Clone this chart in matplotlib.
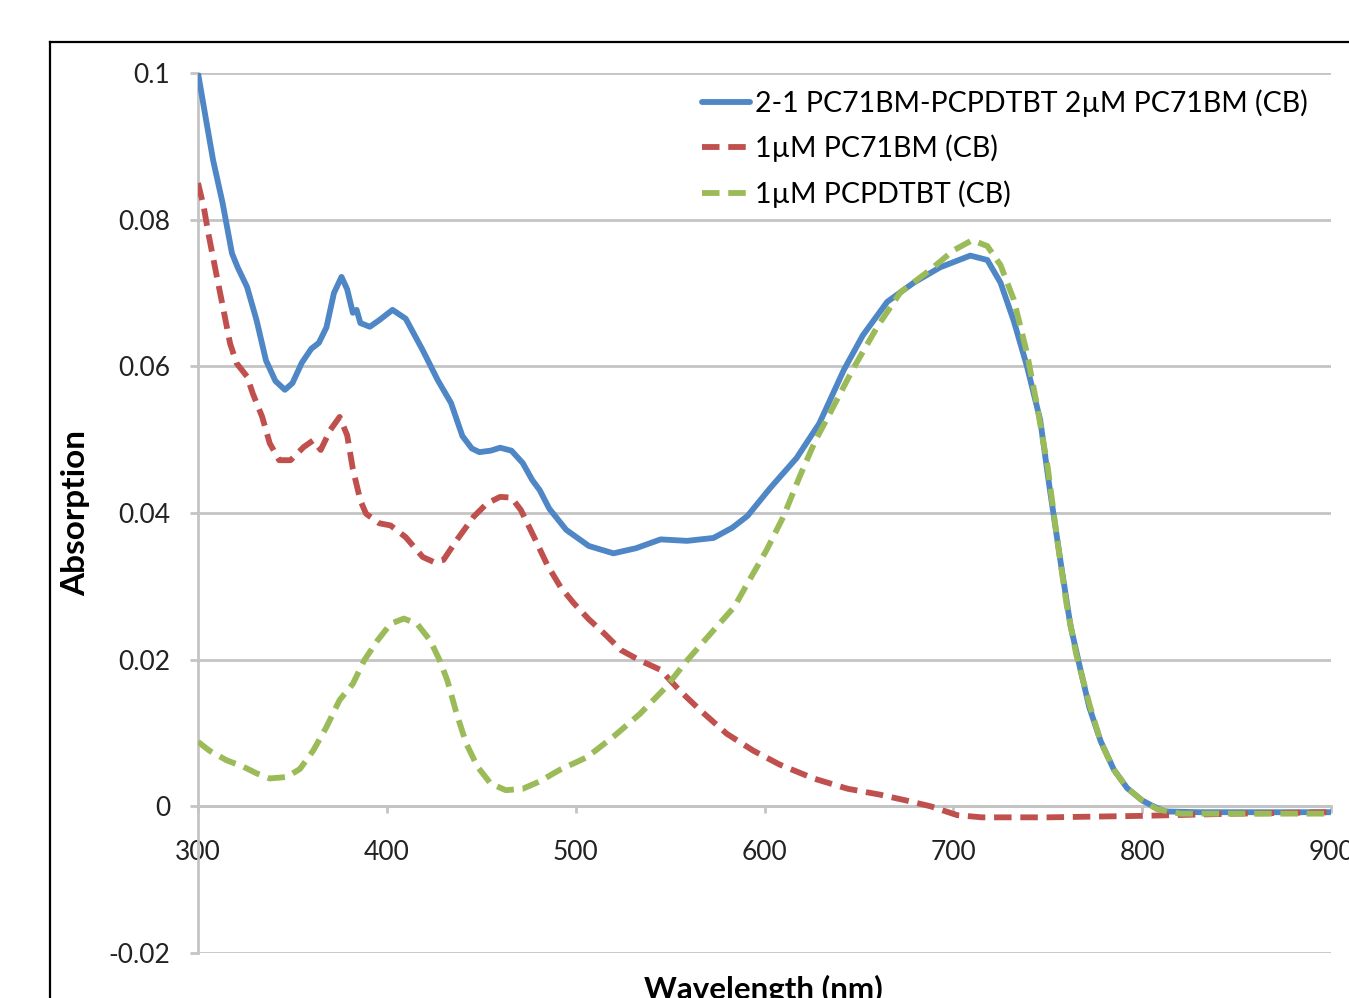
#!/usr/bin/env python3
"""Absorption spectra of PC71BM / PCPDTBT blends in chlorobenzene."""

import matplotlib
matplotlib.use('Agg')
import matplotlib.pyplot as plt
from matplotlib.lines import Line2D

# blend 2-1 PC71BM-PCPDTBT
blend_wl = [300, 304, 308, 313, 318, 321, 326, 331, 336, 341, 346, 350, 355, 360,
            364, 368, 372, 376, 379, 382, 384, 386, 391, 396, 403, 410, 419, 427,
            434, 440, 445, 449, 455, 460, 466, 472, 477, 481, 486, 495, 507, 520,
            532, 545, 559, 573, 583, 591, 603, 617, 629, 642, 652, 665, 679, 693,
            709, 718, 725, 732, 739, 746, 751, 757, 762, 767, 772, 778, 785, 792,
            800, 806, 812, 830, 860, 900]
blend_abs = [0.1, 0.094, 0.0881, 0.0823, 0.0754, 0.0735, 0.0708, 0.0663, 0.0608,
             0.0580, 0.0568, 0.0577, 0.0605, 0.0624, 0.0632, 0.0653, 0.0700, 0.0722,
             0.0705, 0.0673, 0.0677, 0.0659, 0.0654, 0.0663, 0.0677, 0.0665, 0.0622,
             0.0581, 0.0550, 0.0505, 0.0488, 0.0483, 0.0485, 0.0489, 0.0485, 0.0468,
             0.0445, 0.0431, 0.0406, 0.0377, 0.0355, 0.0345, 0.0352, 0.0364, 0.0362,
             0.0366, 0.0380, 0.0396, 0.0434, 0.0475, 0.0522, 0.0595, 0.0642, 0.0688,
             0.0714, 0.0735, 0.0751, 0.0745, 0.0714, 0.0662, 0.0600, 0.0527, 0.0434,
             0.0330, 0.0247, 0.0190, 0.0135, 0.0089, 0.0050, 0.0025, 0.0008, 0.0,
             -0.0007, -0.0008, -0.0008, -0.0008]

# 1 uM PC71BM
pcbm_wl = [300, 303, 305.5, 310, 313.5, 317, 320.5, 326, 329, 334, 338, 343, 349,
           356, 361, 365, 370, 375, 379, 382, 386, 389, 396, 402, 410, 419, 425,
           430, 437, 446, 453, 460, 466, 471, 478, 485, 492, 499, 507, 515, 524,
           534, 545, 555, 566, 580, 594, 608, 626, 644, 661, 675, 688, 702, 715,
           750, 800, 850, 900]
pcbm_abs = [0.0850, 0.0818, 0.0781, 0.0722, 0.0677, 0.0631, 0.0604, 0.0586, 0.0563,
            0.0531, 0.0495, 0.0472, 0.0472, 0.0490, 0.0499, 0.0486, 0.0513, 0.0531,
            0.0506, 0.0460, 0.0417, 0.0399, 0.0386, 0.0383, 0.0367, 0.0340, 0.0333,
            0.0336, 0.0363, 0.0395, 0.0413, 0.0422, 0.0421, 0.0404, 0.0367, 0.0329,
            0.0299, 0.0277, 0.0255, 0.0236, 0.0213, 0.0199, 0.0186, 0.0158, 0.0131,
            0.0099, 0.0076, 0.0057, 0.0038, 0.0024, 0.0016, 0.0008, 0.0, -0.0012,
            -0.0015, -0.0015, -0.0013, -0.0010, -0.0008]

# 1 uM PCPDTBT
pcpdtbt_wl = [300, 306, 315, 324, 331, 338, 347, 354, 361, 368, 375, 382, 388, 395,
              402, 409, 416, 423, 428, 432, 437, 442, 448, 455, 463, 472, 481, 491,
              506, 520, 534, 548, 559, 573, 584, 591, 601, 610, 619, 627, 633, 647,
              660, 672, 688, 700, 710, 718, 725, 732, 739, 744, 750, 755, 760, 765,
              772, 778, 785, 792, 800, 808, 820, 900]
pcpdtbt_abs = [0.0088, 0.0076, 0.0063, 0.0054, 0.0045, 0.0038, 0.0040, 0.0051, 0.0076,
               0.0108, 0.0145, 0.0167, 0.0199, 0.0226, 0.0249, 0.0256, 0.0249, 0.0226,
               0.0199, 0.0172, 0.0126, 0.0086, 0.0054, 0.0031, 0.0022, 0.0024, 0.0034,
               0.0049, 0.0067, 0.0095, 0.0126, 0.0163, 0.0199, 0.0240, 0.0272, 0.0304,
               0.0349, 0.0395, 0.0452, 0.0499, 0.0528, 0.0597, 0.0655, 0.0701, 0.0732,
               0.0758, 0.0772, 0.0764, 0.0738, 0.0691, 0.0618, 0.0551, 0.0462, 0.0364,
               0.0275, 0.0208, 0.0140, 0.0088, 0.0050, 0.0025, 0.0008, -0.0004,
               -0.0010, -0.0010]

labels = ["2-1 PC71BM-PCPDTBT 2\u00b5M PC71BM (CB)",
          "1\u00b5M PC71BM (CB)",
          "1\u00b5M PCPDTBT (CB)"]
x_ticks = [300, 400, 500, 600, 700, 800, 900]
y_ticks = [-0.02, 0, 0.02, 0.04, 0.06, 0.08, 0.1]
y_tick_labels = ["-0.02", "0", "0.02", "0.04", "0.06", "0.08", "0.1"]

BLUE = "#4F86C6"
RED = "#C0504D"
GREEN = "#9BBB59"
GRID = "#C4C4C4"

plt.rcParams["font.family"] = ["Lato", "DejaVu Sans"]

W, H = 1349, 998
fig = plt.figure(figsize=(W / 100, H / 100), dpi=100)
ax = fig.add_axes([198 / W, 1 - 953 / H, (1331 - 198) / W, (953 - 73) / H])

ax.plot(blend_wl, blend_abs, color=BLUE, lw=4.2, label=labels[0], zorder=3,
        solid_capstyle="round", solid_joinstyle="round")
ax.plot(pcbm_wl, pcbm_abs, color=RED, lw=4.2, dashes=(3.0, 1.5), label=labels[1],
        zorder=3)
ax.plot(pcpdtbt_wl, pcpdtbt_abs, color=GREEN, lw=4.2, dashes=(3.0, 1.5),
        label=labels[2], zorder=3)

ax.set_xlim(300, 900)
ax.set_ylim(-0.02, 0.1)
ax.set_yticks(y_ticks)
ax.set_yticklabels(y_tick_labels)
ax.set_xticks(x_ticks)

ax.yaxis.grid(True, color=GRID, lw=2.0)
ax.set_axisbelow(True)
for s in ["top", "right"]:
    ax.spines[s].set_visible(False)
ax.spines["left"].set_color(GRID)
ax.spines["left"].set_linewidth(2.0)
ax.spines["bottom"].set_position(("data", 0))
ax.spines["bottom"].set_color(GRID)
ax.spines["bottom"].set_linewidth(2.0)

ax.tick_params(axis="y", direction="out", length=6, width=2, color=GRID,
               labelsize=19, pad=14, labelcolor="#222222")
ax.tick_params(axis="x", direction="out", length=5, width=2, color=GRID,
               labelsize=19, pad=19, labelcolor="#222222")

ax.set_ylabel("Absorption", fontsize=24, fontweight="bold")
ax.yaxis.set_label_coords(-0.0953, 0.5)
ax.set_xlabel("Wavelength (nm)", fontsize=22.5, fontweight="bold")
ax.xaxis.set_label_coords(0.4987, -0.025)

leg = ax.legend(loc="upper left", bbox_to_anchor=(702 / W, 1 - 89 / H),
                bbox_transform=fig.transFigure, frameon=False, fontsize=20.5,
                handlelength=1.7, handletextpad=0.15, labelspacing=0.64,
                borderaxespad=0, borderpad=0)

# outer chart frame (partly cropped)
fig.add_artist(Line2D([50 / W, 50 / W], [0, 1 - 42 / H], color="black", lw=1.6,
                      transform=fig.transFigure))
fig.add_artist(Line2D([50 / W, 1], [1 - 42 / H, 1 - 42 / H], color="black", lw=1.6,
                      transform=fig.transFigure))

fig.savefig("out.png", dpi=100)
